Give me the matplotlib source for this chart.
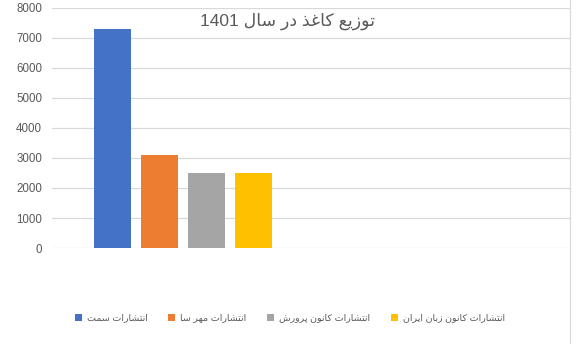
import re
import numpy as np
import matplotlib
matplotlib.use("Agg")
import matplotlib.pyplot as plt
from matplotlib.lines import Line2D

title = "توزیع کاغذ در سال 1401"
publishers = ["انتشارات سمت", "انتشارات مهر سا", "انتشارات کانون پرورش", "انتشارات کانون زبان ایران"]
values = [7300, 3100, 2500, 2500]
colors = ["#4472C4", "#ED7D31", "#A5A5A5", "#FFC000"]
y_ticks = [0, 1000, 2000, 3000, 4000, 5000, 6000, 7000, 8000]

# isolated, final, initial, medial (None = joins only to the right)
FORMS = {
    "ا": ("\uFE8D", "\uFE8E", None, None),
    "ب": ("\uFE8F", "\uFE90", "\uFE91", "\uFE92"),
    "پ": ("\uFB56", "\uFB57", "\uFB58", "\uFB59"),
    "ت": ("\uFE95", "\uFE96", "\uFE97", "\uFE98"),
    "د": ("\uFEA9", "\uFEAA", None, None),
    "ذ": ("\uFEAB", "\uFEAC", None, None),
    "ر": ("\uFEAD", "\uFEAE", None, None),
    "ز": ("\uFEAF", "\uFEB0", None, None),
    "س": ("\uFEB1", "\uFEB2", "\uFEB3", "\uFEB4"),
    "ش": ("\uFEB5", "\uFEB6", "\uFEB7", "\uFEB8"),
    "ع": ("\uFEC9", "\uFECA", "\uFECB", "\uFECC"),
    "غ": ("\uFECD", "\uFECE", "\uFECF", "\uFED0"),
    "ک": ("\uFB8E", "\uFB8F", "\uFB90", "\uFB91"),
    "ل": ("\uFEDD", "\uFEDE", "\uFEDF", "\uFEE0"),
    "م": ("\uFEE1", "\uFEE2", "\uFEE3", "\uFEE4"),
    "ن": ("\uFEE5", "\uFEE6", "\uFEE7", "\uFEE8"),
    "ه": ("\uFEE9", "\uFEEA", "\uFEEB", "\uFEEC"),
    "و": ("\uFEED", "\uFEEE", None, None),
    "ی": ("\uFBFC", "\uFBFD", "\uFBFE", "\uFBFF"),
}


def shape(text):
    # matplotlib has no arabic shaping / bidi, so do it by hand
    out = []
    for i, ch in enumerate(text):
        if ch not in FORMS:
            out.append(ch)
            continue
        iso, fin, ini, med = FORMS[ch]
        prev = text[i - 1] if i > 0 else ""
        nxt = text[i + 1] if i + 1 < len(text) else ""
        jp = prev in FORMS and FORMS[prev][2] is not None
        jn = nxt in FORMS and ini is not None
        if jp and jn:
            out.append(med)
        elif jp:
            out.append(fin)
        elif jn:
            out.append(ini)
        else:
            out.append(iso)
    vis = "".join(out)[::-1]
    return re.sub(r"[0-9]+", lambda m: m.group(0)[::-1], vis)


plt.rcParams["font.family"] = ["Liberation Sans", "DejaVu Sans"]

fig = plt.figure(figsize=(5.76, 3.44), dpi=100)
ax = fig.add_axes([0.090, 0.279, 0.900, 0.698])

x = np.arange(len(values))
for i, (name, v, c) in enumerate(zip(publishers, values, colors)):
    ax.bar(x[i], v, width=0.787, color=c, label=shape(name), zorder=3)

ax.set_ylim(0, 8000)
ax.set_xlim(-1.287, 9.73)
ax.set_yticks(y_ticks)
ax.set_yticklabels([str(t) for t in y_ticks])
ax.set_xticks([])
ax.grid(axis="y", color="#D9D9D9", linewidth=0.9, zorder=0)
for s in ax.spines.values():
    s.set_visible(False)
ax.tick_params(axis="y", length=0, pad=7, labelsize=8.3, labelcolor="#595959")

fig.text(0.50, 0.937, shape(title), ha="center", va="center", fontsize=12.5, color="#595959")

fig.add_artist(Line2D([0.99, 0.99], [0.0, 1.0], color="#D9D9D9", linewidth=0.9))

leg = fig.legend(loc="center", bbox_to_anchor=(0.503, 0.076), ncol=4, frameon=False,
                 fontsize=6.8, handlelength=0.75, handleheight=0.75, handletextpad=0.5,
                 columnspacing=2.2, labelcolor="#595959")

fig.savefig("out.png", dpi=100, facecolor="white")
